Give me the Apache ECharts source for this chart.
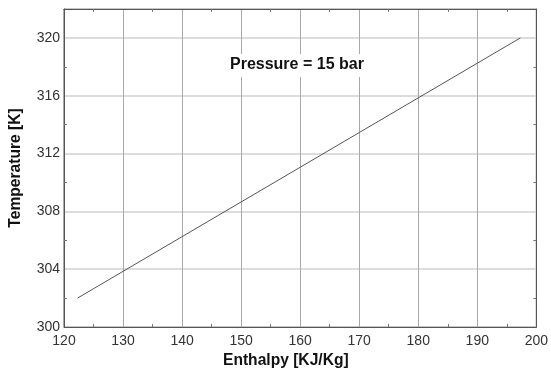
<!DOCTYPE html>
<html><head><meta charset="utf-8">
<script src="https://cdn.jsdelivr.net/npm/echarts@6/dist/echarts.min.js"></script>
<style>html,body{margin:0;padding:0;background:#fff}#c{width:551px;height:374px}</style>
</head><body><div id="c"></div>
<script>
var enthalpy = [122.3, 130, 140, 150, 160, 170, 180, 190, 197.3];
var temperature = [302.0, 303.85, 306.25, 308.65, 311.05, 313.45, 315.85, 318.25, 320.0];
var xTicks = [120, 130, 140, 150, 160, 170, 180, 190, 200];
var yTicks = [300, 304, 308, 312, 316, 320];
var annotation = 'Pressure = 15 bar';
var xTitle = 'Enthalpy [KJ/Kg]';
var yTitle = 'Temperature [K]';

var chart = echarts.init(document.getElementById('c'));
var font = 'Liberation Sans, Arial, sans-serif';
var minor = {show: true, splitNumber: 2, length: 3, lineStyle: {color: '#777'}};
var hidden = {show: false};
chart.setOption({
  animation: false,
  backgroundColor: '#fff',
  grid: {left: 62, right: 12, top: 9, bottom: 47, show: true, borderColor: '#555', borderWidth: 1},
  graphic: [
    {type: 'text', left: 228, top: 54, z: 100,
     style: {text: annotation, font: 'bold 16px ' + font, fill: '#111', backgroundColor: '#fff', padding: [3, 2, 4, 2]}},
    {type: 'text', left: 223, top: 353, style: {text: xTitle, font: 'bold 15.6px ' + font, fill: '#111'}}
  ],
  xAxis: [{
    type: 'value', min: 120, max: 200, interval: 10,
    axisLine: {show: true, lineStyle: {color: '#555'}},
    axisTick: {show: false, inside: true},
    minorTick: minor,
    axisLabel: {fontFamily: font, fontSize: 14, color: '#333', margin: 7,
      formatter: function(v){ return xTicks.indexOf(v) >= 0 ? String(v) : ''; }},
    splitLine: {show: true, lineStyle: {color: '#a8a8a8', width: 1}}
  }, {
    type: 'value', position: 'top', min: 120, max: 200, interval: 10,
    axisLine: {show: true, lineStyle: {color: '#555'}},
    axisTick: {show: false, inside: true},
    minorTick: minor, axisLabel: hidden, splitLine: hidden
  }],
  yAxis: [{
    type: 'value', min: 300, max: 322, interval: 4,
    name: yTitle, nameLocation: 'middle', nameGap: 40,
    nameTextStyle: {fontFamily: font, fontSize: 15.6, fontWeight: 'bold', color: '#111'},
    axisLine: {show: true, lineStyle: {color: '#555'}},
    axisTick: {show: false, inside: true},
    minorTick: minor,
    axisLabel: {fontFamily: font, fontSize: 14, color: '#333', margin: 4, showMaxLabel: false,
      formatter: function(v){ return yTicks.indexOf(v) >= 0 ? String(v) : ''; }},
    splitLine: {show: true, lineStyle: {color: '#d0d0d0', width: 1.5}}
  }, {
    type: 'value', position: 'right', min: 300, max: 322, interval: 4,
    axisLine: {show: true, lineStyle: {color: '#555'}},
    axisTick: {show: false, inside: true},
    minorTick: minor, axisLabel: hidden, splitLine: hidden
  }],
  series: [{
    type: 'line', showSymbol: false, symbol: 'none', xAxisIndex: 0, yAxisIndex: 0,
    data: enthalpy.map(function(x, i){ return [x, temperature[i]]; }),
    lineStyle: {color: '#555', width: 1}
  }]
});
</script></body></html>
